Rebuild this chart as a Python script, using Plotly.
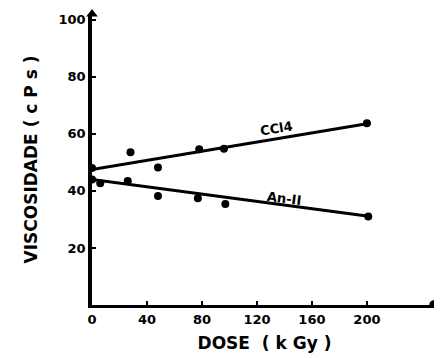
import plotly.graph_objects as go

# Data
ccl4_dose = [0, 28, 48, 78, 96, 200]
ccl4_visc = [48, 53.5, 48.2, 54.6, 54.8, 63.7]
ccl4_fit_dose = [0, 200]
ccl4_fit_visc = [47.5, 63.5]

an_dose = [0, 6, 26, 48, 77, 97, 201]
an_visc = [44, 42.7, 43.5, 38.2, 37.4, 35.4, 31]
an_fit_dose = [0, 200]
an_fit_visc = [44, 31.2]

x_ticks = [0, 40, 80, 120, 160, 200]
y_ticks = [20, 40, 60, 80, 100]
x_max = 251
y_max = 102

FONT = "DejaVu Sans"
fig = go.Figure()

fig.add_trace(go.Scatter(x=ccl4_fit_dose, y=ccl4_fit_visc, mode="lines",
                         line=dict(color="black", width=3), showlegend=False))
fig.add_trace(go.Scatter(x=an_fit_dose, y=an_fit_visc, mode="lines",
                         line=dict(color="black", width=3), showlegend=False))
fig.add_trace(go.Scatter(x=ccl4_dose, y=ccl4_visc, mode="markers",
                         marker=dict(color="black", size=8), showlegend=False, cliponaxis=False))
fig.add_trace(go.Scatter(x=an_dose, y=an_visc, mode="markers",
                         marker=dict(color="black", size=8), showlegend=False, cliponaxis=False))
# y axis arrow head
fig.add_trace(go.Scatter(x=[0], y=[y_max], mode="markers",
                         marker=dict(color="black", size=10, symbol="triangle-up"),
                         showlegend=False, cliponaxis=False))
# x axis end dot
fig.add_shape(type="circle", xref="x", yref="y", xsizemode="pixel", ysizemode="pixel",
              xanchor=x_max - 2, yanchor=0, x0=-5, x1=5, y0=-5, y1=5,
              fillcolor="black", line=dict(color="black", width=0), layer="above")

fig.add_annotation(x=134, y=62, text="<b>CCl4</b>", showarrow=False, textangle=-9,
                   font=dict(family=FONT, size=13, color="black"))
fig.add_annotation(x=140, y=37.3, text="<b>An-II</b>", showarrow=False, textangle=7,
                   font=dict(family=FONT, size=13, color="black"))

# the page body has an 8px margin, so the figure is sized/offset to compensate
fig.update_layout(
    width=434, height=350,
    margin=dict(l=84, r=5, t=6, b=53),
    paper_bgcolor="white", plot_bgcolor="white",
    font=dict(family=FONT, color="black"),
    xaxis=dict(range=[0, x_max], tickvals=x_ticks, ticktext=[f"<b>{v}</b>" for v in x_ticks],
               showgrid=False, zeroline=False, showline=True, linecolor="black", linewidth=3,
               ticks="inside", ticklen=4, tickwidth=2, tickcolor="black",
               tickfont=dict(family=FONT, size=13, color="black"),
               title=dict(text="<b>DOSE  ( k Gy )</b>", standoff=12,
                          font=dict(family=FONT, size=17, color="black"))),
    yaxis=dict(range=[0, y_max], tickvals=y_ticks, ticktext=[f"<b>{v}</b>" for v in y_ticks],
               showgrid=False, zeroline=False, showline=True, linecolor="black", linewidth=3.5,
               ticks="inside", ticklen=4, tickwidth=2, tickcolor="black",
               tickfont=dict(family=FONT, size=13, color="black"),
               title=dict(text="<b>VISCOSIDADE ( c P s )</b>", standoff=18,
                          font=dict(family=FONT, size=17, color="black"))),
)

fig.write_html("out.html")
